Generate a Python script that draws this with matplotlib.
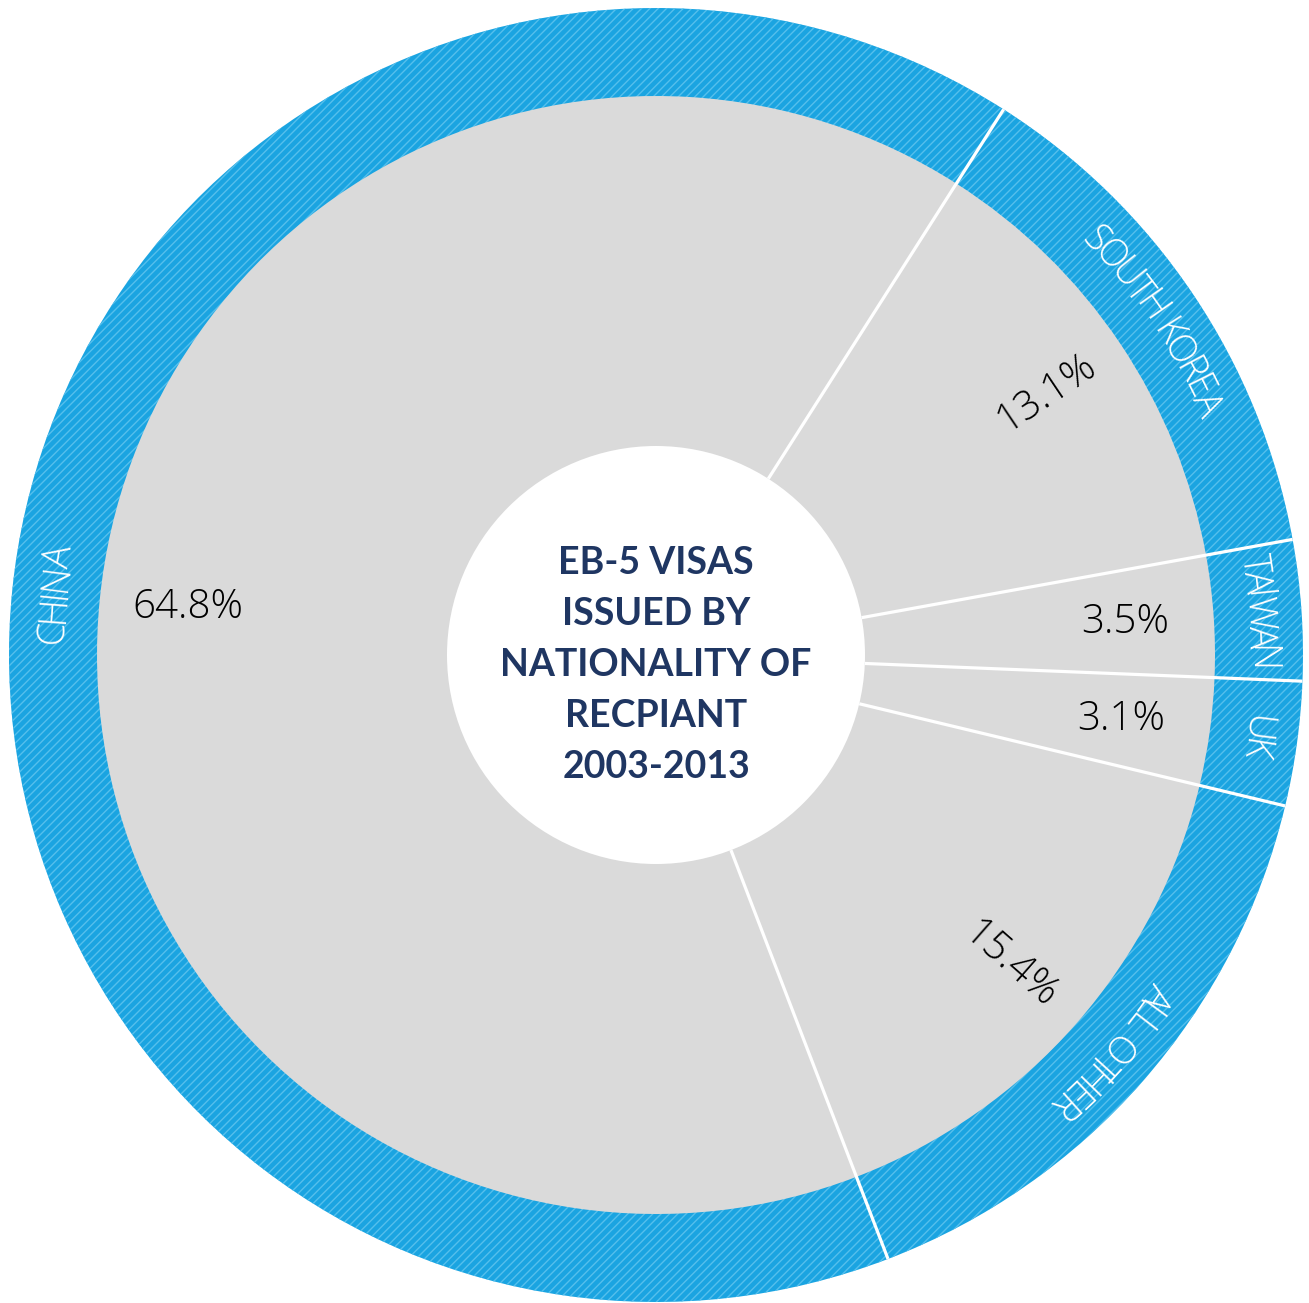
"""EB-5 visas issued by nationality of recipient, 2003-2013 (ring pie chart)."""

import matplotlib

matplotlib.use("Agg")
import matplotlib.pyplot as plt
import numpy as np
from matplotlib.font_manager import FontProperties
from matplotlib.patches import Circle
from matplotlib.textpath import TextToPath


countries = ["SOUTH KOREA", "TAIWAN", "UK", "ALL OTHER", "CHINA"]
shares = [13.1, 3.5, 3.1, 15.4, 64.8]
share_labels = ["13.1%", "3.5%", "3.1%", "15.4%", "64.8%"]
title_lines = ["EB-5 VISAS", "ISSUED BY", "NATIONALITY OF", "RECPIANT", "2003-2013"]

W, H = 1309, 1303
PT = 72 / 100  # points per pixel at dpi=100
CX, CY = 656, H - 655
R_OUT, R_GRAY, R_HOLE = 647, 559, 209
START = 57.5

BLUE = "#1aa4e1"
HATCH_BLUE = "#55bfec"
GRAY = "#dadada"
NAVY = "#1f3662"

plt.rcParams["hatch.linewidth"] = 1.0


def arc_text(ax, text, mid_deg, radius, prop, color, tracking=1.0):
    """Place text letter by letter along a circle, reading clockwise."""
    ttp = TextToPath()
    widths = [tracking * ttp.get_text_width_height_descent(text[:i], prop, ismath=False)[0] / PT
              for i in range(len(text) + 1)]
    total = widths[-1]
    for i, ch in enumerate(text):
        if ch == " ":
            continue
        s = (widths[i] + widths[i + 1]) / 2 - total / 2
        ang = mid_deg - np.degrees(s / radius)
        a = np.radians(ang)
        ax.text(CX + radius * np.cos(a), CY + radius * np.sin(a), ch,
                rotation=ang - 90, rotation_mode="anchor", ha="center", va="center",
                fontproperties=prop, color=color, zorder=5)


def main() -> None:
    fig = plt.figure(figsize=(W / 100, H / 100), dpi=100)
    ax = fig.add_axes([0, 0, 1, 1])

    wedges, _ = ax.pie(shares, startangle=START, counterclock=False, radius=R_OUT,
                       center=(CX, CY), colors=[BLUE], hatch="////",
                       wedgeprops=dict(edgecolor=HATCH_BLUE, linewidth=0))
    ax.pie(shares, startangle=START, counterclock=False, radius=R_GRAY,
           center=(CX, CY), colors=[GRAY], wedgeprops=dict(linewidth=0))
    ax.add_patch(Circle((CX, CY), R_HOLE, facecolor="white", edgecolor="none", zorder=3))
    ax.set_xlim(0, W)
    ax.set_ylim(0, H)
    ax.set_aspect("equal")
    ax.axis("off")

    # white separators between slices
    for w in wedges:
        a = np.radians(w.theta1)
        ax.plot([CX + R_HOLE * np.cos(a), CX + R_OUT * np.cos(a)],
                [CY + R_HOLE * np.sin(a), CY + R_OUT * np.sin(a)],
                color="white", lw=2.3, solid_capstyle="butt", zorder=4)

    pct_font = FontProperties(family=["Open Sans", "DejaVu Sans"], weight="light", size=29)
    ring_font = FontProperties(family=["Open Sans", "DejaVu Sans"], weight="light", size=27)
    radial = [True, False, False, True, False]
    for w, lab, name, rad in zip(wedges, share_labels, countries, radial):
        mid = (w.theta1 + w.theta2) / 2
        a = np.radians(mid)
        r = 470
        ax.text(CX + r * np.cos(a), CY + r * np.sin(a), lab,
                rotation=mid if rad else 0, rotation_mode="anchor",
                ha="center", va="center", fontproperties=pct_font, color="black", zorder=5)
        arc_text(ax, name, mid, 604, ring_font, "white", tracking=0.88)

    title_font = FontProperties(family=["Lato", "DejaVu Sans"], weight="bold", size=27)
    step = 51
    for i, line in enumerate(title_lines):
        y = CY + 2 * step - i * step - 10
        ax.text(CX, y, line, ha="center", va="center", fontproperties=title_font,
                color=NAVY, zorder=5)

    fig.savefig("out.png", dpi=100)
    plt.close(fig)


if __name__ == "__main__":
    main()
